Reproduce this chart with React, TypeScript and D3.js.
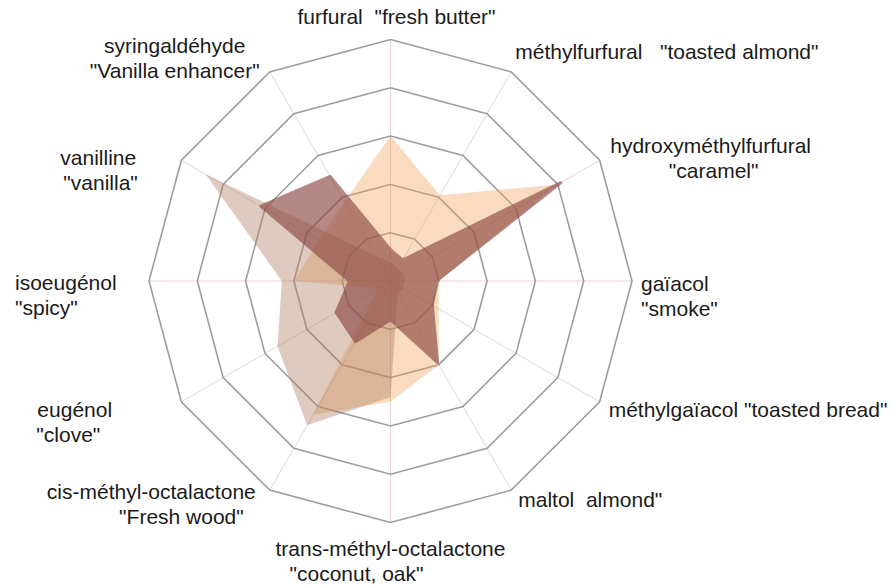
import React from "react";
import * as d3 from "d3";

// axes, clockwise from the top
const categories = [
  "furfural",
  "méthylfurfural",
  "hydroxyméthylfurfural",
  "gaïacol",
  "méthylgaïacol",
  "maltol",
  "trans-méthyl-octalactone",
  "cis-méthyl-octalactone",
  "eugénol",
  "isoeugénol",
  "vanilline",
  "syringaldéhyde",
];

const labelLines = [
  ['furfural  "fresh butter"'],
  ['méthylfurfural   "toasted almond"'],
  ["hydroxyméthylfurfural", '"caramel"'],
  ["gaïacol", '"smoke"'],
  ['méthylgaïacol "toasted bread"'],
  ['maltol  almond"'],
  ["trans-méthyl-octalactone", '"coconut, oak"'],
  ["cis-méthyl-octalactone", '"Fresh wood"'],
  ["eugénol", '"clove"'],
  ["isoeugénol", '"spicy"'],
  ["vanilline", '"vanilla"'],
  ["syringaldéhyde", '"Vanilla enhancer"'],
];

const seriesOrange = [3.0, 2.05, 4.0, 1.0, 1.15, 2.0, 2.5, 3.2, 0.3, 2.0, 1.7, 1.9];
const seriesTan = [0.4, 0.3, 0.3, 0.3, 0.3, 0.3, 2.4, 3.45, 2.7, 2.25, 4.42, 0.6];
const seriesDark = [0.65, 0.5, 4.07, 0.95, 1.0, 1.95, 0.8, 1.45, 1.3, 0.85, 3.1, 2.5];

const levels = [1, 2, 3, 4, 5];

const width = 894;
const height = 585;
const cx = 390.5;
const cy = 281;
const radius = 241.5;

// label placement: offset of the first line from the outer vertex, per-line x shift
const labelLayout = [
  { dx: 6, dy: -23, anchor: "middle", shift: [0] },
  { dx: 4, dy: -20, anchor: "start", shift: [0] },
  { dx: 111, dy: -15, anchor: "middle", shift: [0, 3] },
  { dx: 9, dy: 3, anchor: "start", shift: [0, 0] },
  { dx: 9, dy: 8, anchor: "start", shift: [0] },
  { dx: 7, dy: 10, anchor: "start", shift: [0] },
  { dx: -115, dy: 26, anchor: "start", shift: [0, 14] },
  { dx: -14, dy: 2, anchor: "end", shift: [0, -12] },
  { dx: -144, dy: 8, anchor: "start", shift: [0, -1] },
  { dx: -134, dy: 2, anchor: "start", shift: [0, 0] },
  { dx: -121, dy: -3, anchor: "start", shift: [0, 3] },
  { dx: -95, dy: -26, anchor: "middle", shift: [0, 0] },
];

export default function App() {
  const n = categories.length;
  const angle = d3
    .scaleLinear()
    .domain([0, n])
    .range([0, 2 * Math.PI]);
  const r = d3.scaleLinear().domain([0, 5]).range([0, radius]);

  const radar = d3
    .lineRadial<number>()
    .angle((d, i) => angle(i))
    .radius(d => r(d))
    .curve(d3.curveLinearClosed);

  const point = (i: number, v: number) => {
    const a = angle(i);
    return [r(v) * Math.sin(a), -r(v) * Math.cos(a)];
  };

  const series = [
    { values: seriesOrange, color: "#f0a860", opacity: 0.4, stroke: 0 },
    { values: seriesTan, color: "#b07a60", opacity: 0.4, stroke: 0 },
    { values: seriesDark, color: "#8b4a44", opacity: 0.65, stroke: 3 },
  ];

  return (
    <svg
      width={width}
      height={height}
      style={{ position: "absolute", left: 0, top: 0, background: "#fff" }}
      fontFamily="'Liberation Sans', Arial, sans-serif"
      fontSize={21}
    >
      <g transform={`translate(${cx},${cy})`}>
        {/* spokes */}
        {categories.map((c, i) => {
          const [x, y] = point(i, 5);
          return <line key={c} x1={0} y1={0} x2={x} y2={y} stroke="#e6d3d3" strokeWidth={1} />;
        })}
        {/* rings */}
        {levels.map(l => (
          <path
            key={l}
            d={radar(categories.map(() => l)) || ""}
            fill="none"
            stroke="#9d9d9d"
            strokeWidth={1.6}
          />
        ))}
        {/* series */}
        {series.map((s, k) => (
          <path
            key={k}
            d={radar(s.values) || ""}
            fill={s.color}
            stroke={s.stroke ? s.color : "none"}
            strokeWidth={s.stroke}
            strokeLinejoin="round"
            opacity={s.opacity}
          />
        ))}
      </g>
      {/* labels */}
      <g fill="#1a1a1a">
        {labelLines.map((lines, i) => {
          const [vx, vy] = point(i, 5);
          const lay = labelLayout[i];
          return (
            <text key={i} textAnchor={lay.anchor} xmlSpace="preserve" style={{ whiteSpace: "pre" }}>
              {lines.map((t, j) => (
                <tspan
                  key={j}
                  x={cx + vx + lay.dx + lay.shift[j]}
                  y={cy + vy + lay.dy + j * 25}
                  dy="0.35em"
                >
                  {t}
                </tspan>
              ))}
            </text>
          );
        })}
      </g>
    </svg>
  );
}
